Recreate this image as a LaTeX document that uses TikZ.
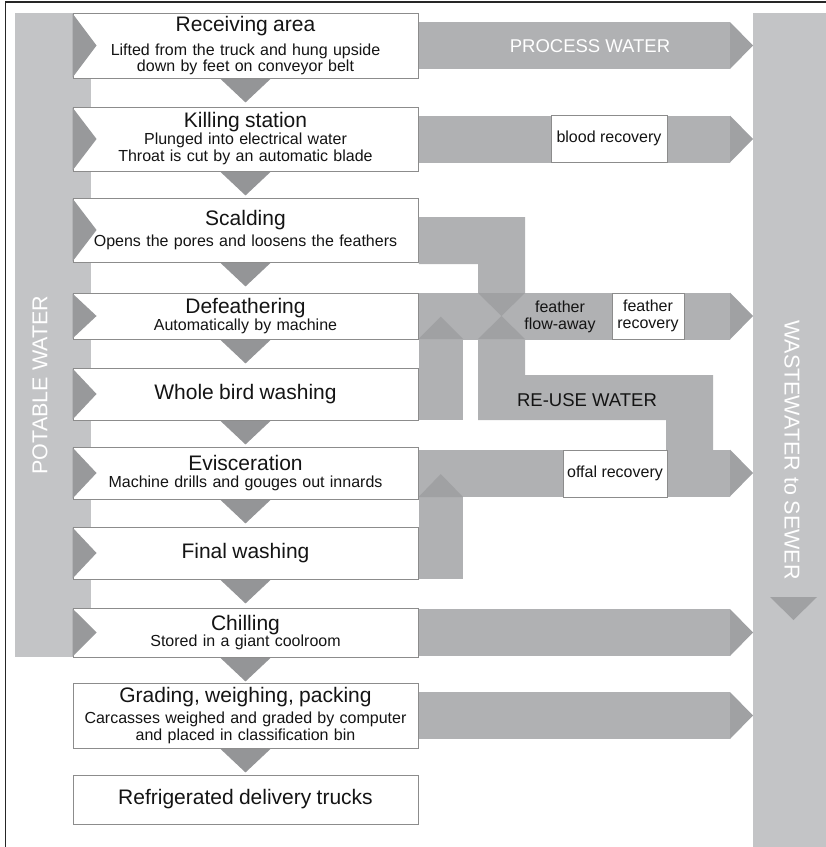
\documentclass[tikz,border=0pt]{standalone}
\usepackage{fontspec}
\setmainfont{Liberation Sans}
\usetikzlibrary{calc}

\definecolor{barfill}{HTML}{C3C4C6}
\definecolor{bandfill}{HTML}{B0B1B3}
\definecolor{tipfill}{HTML}{A0A1A3}
\definecolor{dropfill}{HTML}{949597}
\definecolor{boxline}{HTML}{8C8C8C}
\definecolor{ink}{HTML}{141414}

\newcommand\heading[1]{{\fontsize{21}{21}\selectfont #1}}

\tikzset{
  frame/.style={draw=black!85, line width=1.3pt},
  waterbar/.style={fill=barfill, inner sep=0pt, anchor=north west},
  barlabel/.style={text=white, font=\fontsize{21.5}{21.5}\selectfont},
  stage/.style={draw=boxline, line width=0.9pt, fill=white, minimum width=345pt,
    text width=339pt, inner xsep=3pt, inner ysep=0pt, align=center, text=ink,
    font=\fontsize{16}{16}\selectfont},
  band/.style={fill=bandfill},
  arrowtip/.style={fill=tipfill},
  drop/.style={fill=dropfill},
  inlet/.style={fill=tipfill!95!black},
  recovery/.style={draw=boxline, line width=0.9pt, fill=white, minimum height=47pt,
    inner sep=1pt, align=center, text=ink, font=\fontsize{16}{17}\selectfont},
  flowlabel/.style={align=center, text=ink, font=\fontsize{16}{17}\selectfont},
}

\begin{document}
\begin{tikzpicture}[x=1pt,y=-1pt]
  \useasboundingbox (0,0) rectangle (826,847);
  \draw[frame] (5.5,847) -- (5.5,2) -- (826,2);

  % water supply and drain
  \node[waterbar, minimum width=76pt, minimum height=644pt] (potable) at (15,13) {};
  \node[waterbar, minimum width=80pt, minimum height=834pt] (sewer) at (753,13) {};
  \node[barlabel, rotate=90] (potablelabel) at (40,385) {POTABLE WATER};
  \node[barlabel, rotate=-90] (sewerlabel) at (792,450) {WASTEWATER to SEWER};
  \fill[arrowtip] (770,597) -- (817,597) -- (793.5,620) -- cycle;

  % process steps
  \node[stage, minimum height=65pt] (recv) at (245.5,45.5)
    {\heading{Receiving area}\\[8pt] Lifted from the truck and hung upside\\[0.5pt] down by feet on conveyor belt};
  \node[stage, minimum height=64pt] (kill) at (245.5,139)
    {\heading{Killing station}\\[0.5pt] Plunged into electrical water\\[1.5pt] Throat is cut by an automatic blade};
  \node[stage, minimum height=64pt] (scald) at (245.5,230)
    {\heading{Scalding}\\[5.5pt] Opens the pores and loosens the feathers};
  \node[stage, minimum height=46pt] (defeath) at (245.5,316)
    {\heading{Defeathering}\\[0.5pt] Automatically by machine};
  \node[stage, minimum height=52pt] (whole) at (245.5,394)
    {\heading{Whole bird washing}};
  \node[stage, minimum height=52pt] (evisc) at (245.5,473)
    {\heading{Evisceration}\\[1pt] Machine drills and gouges out innards};
  \node[stage, minimum height=52pt] (final) at (245.5,553)
    {\heading{Final washing}};
  \node[stage, minimum height=49pt] (chill) at (245.5,632.5)
    {\heading{Chilling}\\[0.5pt] Stored in a giant coolroom};
  \node[stage, minimum height=65pt] (grade) at (245.5,715.5)
    {\heading{Grading, weighing, packing}\\[5pt] Carcasses weighed and graded by computer\\[0.5pt] and placed in classification bin};
  \node[stage, minimum height=49pt] (trucks) at (245.5,799.5)
    {\heading{Refrigerated delivery trucks}};

  % potable water into the steps
  \foreach \s in {recv,kill,scald,defeath,whole,evisc,final,chill}
    \fill[inlet] ($(\s.north west)+(0,1)$) -- ($(\s.west)+(24,0)$) -- ($(\s.south west)+(0,-1)$) -- cycle;

  % product flow
  \foreach \a in {recv,kill,scald,defeath,whole,evisc,final,chill,grade}
    \fill[drop] ($(\a.south)+(-25,0.5)$) -- ($(\a.south)+(25,0.5)$) -- ($(\a.south)+(0,24)$) -- cycle;

  % waste streams to sewer
  \foreach \s in {recv,kill,defeath,evisc,chill,grade} {
    \fill[band] ($(\s.east)+(0.5,-23.5)$) rectangle ($(\s.east -| sewer.west)+(-23,23.5)$);
    \fill[arrowtip] ($(\s.east -| sewer.west)+(-23,-23.5)$) -- (\s.east -| sewer.west)
      -- ($(\s.east -| sewer.west)+(-23,23.5)$) -- cycle;
  }

  % scalding water down into feather flow-away
  \fill[band] ($(scald.east)+(0.5,-13)$) -- (525,217) -- (525,293) -- (478,293)
    -- (478,264) -- ($(scald.east)+(0.5,34)$) -- cycle;
  % washing water up into the streams
  \fill[band] ($(whole.north east)+(0.5,-29)$) rectangle ($(whole.south east)+(45,0)$);
  \fill[arrowtip] (418.5,339) -- (463,339) -- (440.75,316.5) -- cycle;
  \fill[band] ($(final.north east)+(0.5,-30)$) rectangle ($(final.south east)+(45,0)$);
  \fill[arrowtip] (418.5,497) -- (463,497) -- (440.75,474) -- cycle;
  % re-use water
  \fill[band] (478,339) -- (525,339) -- (525,375) -- (713,375) -- (713,450)
    -- (666,450) -- (666,420) -- (478,420) -- cycle;
  \fill[arrowtip] (478,293) -- (525,293) -- (501.5,316) -- cycle;
  \fill[arrowtip] (478,339) -- (525,339) -- (501.5,316) -- cycle;

  % recovery points and labels
  \node[recovery, minimum width=116pt] (blood) at (609,138.5) {blood recovery};
  \node[recovery, minimum width=72pt, minimum height=46pt] (feathrec) at (648,316) {feather\\recovery};
  \node[recovery, minimum width=104pt] (offal) at (615,473.5) {offal recovery};
  \node[flowlabel] (flowaway) at (560,317) {feather\\flow-away};
  \node[text=white, font=\fontsize{18.5}{18.5}\selectfont] (process) at (590,46.5) {PROCESS WATER};
  \node[text=ink, font=\fontsize{18.5}{18.5}\selectfont] (reuse) at (587,400) {RE-USE WATER};
\end{tikzpicture}
\end{document}
